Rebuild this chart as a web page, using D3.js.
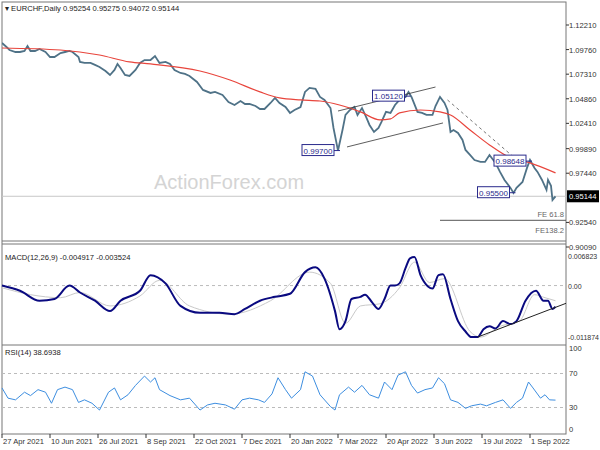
<!DOCTYPE html>
<html><head><meta charset="utf-8">
<script src="https://cdn.jsdelivr.net/npm/d3@7"></script>
<style>body{margin:0;background:#fff}svg{font-family:"Liberation Sans",Arial,sans-serif}</style>
</head><body><svg id="c" width="600" height="450"></svg>
<script>
// ---------- data (bar index, value) ----------
const xTickLabels = ["27 Apr 2021","10 Jun 2021","26 Jul 2021","8 Sep 2021","22 Oct 2021","7 Dec 2021","20 Jan 2022","7 Mar 2022","20 Apr 2022","3 Jun 2022","19 Jul 2022","1 Sep 2022"];
const xTickIndex = [0,32,64,96,128,160,192,224,256,288,320,352];
const priceTicks = [1.1221,1.0976,1.0731,1.0486,1.0241,0.9989,0.9744,0.9254,0.9009];
const priceIdx = [0,3,5,9,12,15,17,19,22,25,29,32,35,39,42,45,47,51,52,55,59,62,65,69,72,75,77,79,82,85,89,92,95,99,102,105,109,112,115,119,122,125,130,134,139,142,147,151,155,159,162,165,169,172,175,179,182,185,189,192,195,199,202,205,209,212,215,219,221,224,227,229,232,235,237,240,243,245,248,251,253,256,259,262,265,269,271,273,277,280,283,287,289,292,295,297,299,301,304,307,309,312,315,319,322,325,329,332,335,339,341,343,347,350,352,355,357,360,363,364,366,367,369];
const priceClose = [1.1042,1.1002,1.0972,1.0952,1.0952,1.0962,1.1012,1.0962,1.0962,1.0982,1.0952,1.0902,1.0902,1.0942,1.0952,1.0962,1.0952,1.0902,1.0853,1.0843,1.0843,1.0823,1.0803,1.0763,1.0723,1.0773,1.0833,1.0793,1.0723,1.0713,1.0773,1.0843,1.0872,1.0872,1.0912,1.0843,1.0853,1.0833,1.0773,1.0743,1.0733,1.0713,1.0653,1.0574,1.0544,1.0554,1.0524,1.0454,1.0424,1.0464,1.0434,1.0434,1.0414,1.0384,1.0384,1.0444,1.0494,1.0444,1.0404,1.0345,1.0374,1.0404,1.0554,1.0594,1.0584,1.0504,1.0474,1.0394,1.0195,0.9970,1.0175,1.0325,1.0374,1.0404,1.0325,1.0394,1.0295,1.0225,1.0155,1.0195,1.0255,1.0355,1.0345,1.0424,1.0474,1.0504,1.0554,1.0504,1.0355,1.0345,1.0325,1.0325,1.0414,1.0504,1.0444,1.0374,1.0155,1.0175,1.0145,1.0076,0.9976,0.9926,0.9876,0.9857,0.9857,0.9926,0.9847,0.9757,0.9677,0.9598,0.9548,0.9598,0.9657,0.9797,0.9876,0.9797,0.9757,0.9677,0.9578,0.9677,0.9618,0.9478,0.9514];
const maIdx = [0,39,65,85,99,132,152,172,185,199,212,225,239,252,259,265,279,292,299,312,325,339,352,369];
const maValue = [1.0992,1.0972,1.0922,1.0853,1.0833,1.0763,1.0673,1.0554,1.0494,1.0474,1.0464,1.0424,1.0355,1.0275,1.0285,1.0345,1.0374,1.0355,1.0325,1.0175,1.0026,0.9897,0.9847,0.9747];
const macdIdx = [0,12,25,35,45,52,62,72,79,92,99,109,119,132,145,155,162,172,182,192,202,209,215,222,225,229,233,239,242,247,251,255,259,262,265,269,272,275,279,284,287,291,294,299,304,309,313,317,321,325,329,334,339,343,349,356,361,364,367,369];
const macdValue = [0,-0.0012,-0.0035,-0.0031,0,-0.0016,-0.0035,-0.0059,-0.0035,-0.0012,0.0024,0.0005,-0.0047,-0.0063,-0.0063,-0.0066,-0.0054,-0.0035,-0.0026,-0.0019,0.0031,0.0042,0.0016,-0.0059,-0.0101,-0.0082,-0.0031,-0.0026,-0.0021,-0.0040,-0.0054,-0.0031,0,0,0.0005,0.0040,0.0063,0.0066,0.0024,-0.0002,-0.0007,0.0024,0.0026,-0.0031,-0.0082,-0.0106,-0.0119,-0.0119,-0.0101,-0.0094,-0.0099,-0.0082,-0.0089,-0.0082,-0.0035,-0.0012,-0.0035,-0.0035,-0.0054,-0.0049];
const signalIdx = [0,19,39,52,72,92,105,125,152,179,205,219,229,239,252,265,275,285,295,312,319,332,345,355,362,369];
const signalValue = [-0.0005,-0.0021,-0.0028,-0.0016,-0.0047,-0.0024,0.0012,-0.0047,-0.0066,-0.0035,0.0031,0.0005,-0.0087,-0.0047,-0.0042,-0.0005,0.0054,0.0007,0.0016,-0.0106,-0.0119,-0.0094,-0.0082,-0.0021,-0.0028,-0.0035];
const rsiIdx = [0,4,9,15,19,24,29,33,37,42,47,51,55,60,65,71,75,79,84,89,95,99,102,105,112,119,125,132,137,142,149,155,160,165,171,175,180,184,189,193,199,202,207,212,219,222,225,231,235,240,245,251,255,260,264,269,273,277,282,287,291,295,299,304,309,313,319,323,329,334,339,343,347,351,354,359,362,365,369];
const rsiValue = [53,41,39,48,44,51,48,35,51,54,51,36,39,35,27,48,53,39,45,56,67,60,65,51,44,39,41,27,33,35,33,28,39,41,39,36,46,65,51,41,51,72,67,45,31,27,45,54,48,56,45,41,60,51,68,72,56,47,51,53,65,58,39,36,29,32,34,32,36,39,29,36,41,60,53,41,45,39,38.69];
// annotations: [idx, price]
const channelLower = [[230,1.0006],[294,1.0245]];
const channelUpper = [[224,1.0364],[289,1.0603]];
const dottedLine = [[297,1.0474],[348,0.9816]];
const pivotLabels = [{t:"0.99700",i:224,v:0.9970},{t:"1.05120",i:271,v:1.0512},{t:"0.98648",i:352,v:0.98648},{t:"0.95500",i:341,v:0.9550}];
const macdTrend = [[317,-0.0119],[376,-0.0041]];

// ---------- layout ----------
const svg = d3.select("#c");
const L=2, R=566;
const x = d3.scaleLinear().domain([0,376]).range([L,R]);
const yP = d3.scaleLinear().domain([0.9009,1.1221]).range([247,25]);
const yM = d3.scaleLinear().domain([-0.011874,0.006823]).range([337,256]);
const yR = d3.scaleLinear().domain([0,100]).range([433,348]);
const ax = "#333", fs = 7.6;

svg.append("rect").attr("x",L).attr("y",2).attr("width",R-L).attr("height",432).attr("fill","none").attr("stroke","#777");
[241,244,345].forEach(yy=>svg.append("line").attr("x1",L).attr("x2",R).attr("y1",yy).attr("y2",yy).attr("stroke","#777"));

svg.append("clipPath").attr("id","cp").append("rect").attr("x",L).attr("y",2).attr("width",R-L).attr("height",239);

svg.append("text").attr("x",154).attr("y",189).attr("font-size",20).attr("fill","#d4d4d4").text("ActionForex.com");

svg.append("line").attr("x1",L).attr("x2",R).attr("y1",yP(0.95144)).attr("y2",yP(0.95144)).attr("stroke","#c8c8c8");
svg.append("line").attr("x1",440).attr("x2",R).attr("y1",yP(0.9275)).attr("y2",yP(0.9275)).attr("stroke","#555");
svg.append("text").attr("x",564).attr("y",yP(0.9275)-3).attr("text-anchor","end").attr("font-size",fs).attr("fill","#666").text("FE 61.8");
svg.append("text").attr("x",564).attr("y",yP(0.9135)-1).attr("text-anchor","end").attr("font-size",fs).attr("fill","#666").text("FE138.2");

const g = svg.append("g").attr("clip-path","url(#cp)");
const line = (ys)=>d3.line().x(d=>x(d[0])).y(d=>ys(d[1]));
g.append("path").attr("d",line(yP)(priceIdx.map((d,i)=>[d,priceClose[i]]))).attr("fill","none").attr("stroke","#4f7287").attr("stroke-width",1.8);
g.append("path").attr("fill","none").attr("stroke","#e8453c").attr("stroke-width",1.2).attr("d",d3.line().curve(d3.curveMonotoneX).x(d=>x(d[0])).y(d=>yP(d[1]))(maIdx.map((d,i)=>[d,maValue[i]])));
[channelLower,channelUpper].forEach(c=>g.append("path").attr("d",line(yP)(c)).attr("stroke","#333").attr("stroke-width",0.8).attr("fill","none"));
g.append("path").attr("d",line(yP)(dottedLine)).attr("stroke","#777").attr("stroke-dasharray","3,3").attr("fill","none");
pivotLabels.forEach(p=>{
  const px=x(p.i), py=yP(p.v), w=32;
  g.append("line").attr("x1",px-w-4).attr("x2",px+2).attr("y1",py).attr("y2",py).attr("stroke","#2b2b8c");
  g.append("rect").attr("x",px-w-4).attr("y",py-6).attr("width",w).attr("height",11).attr("fill","#fff").attr("stroke","#2b2b8c");
  g.append("text").attr("x",px-w/2-4).attr("y",py+3).attr("text-anchor","middle").attr("font-size",8).attr("fill","#2b2b8c").text(p.t);
});

priceTicks.forEach(t=>{
  svg.append("line").attr("x1",R).attr("x2",R+3).attr("y1",yP(t)).attr("y2",yP(t)).attr("stroke",ax);
  svg.append("text").attr("x",569).attr("y",yP(t)+3).attr("font-size",fs).attr("fill",ax).text(t.toFixed(5));
});
svg.append("rect").attr("x",567).attr("y",yP(0.95144)-6).attr("width",32).attr("height",12).attr("fill","#000");
svg.append("text").attr("x",569).attr("y",yP(0.95144)+3).attr("font-size",fs).attr("fill","#fff").text("0.95144");

svg.append("text").attr("x",5).attr("y",11).attr("font-size",fs).attr("fill","#222").text("▾ EURCHF,Daily  0.95254 0.95275 0.94072 0.95144");
svg.append("text").attr("x",5).attr("y",260).attr("font-size",fs).attr("fill","#222").text("MACD(12,26,9) -0.004917 -0.003524");
svg.append("text").attr("x",5).attr("y",355).attr("font-size",fs).attr("fill","#222").text("RSI(14) 38.6938");

svg.append("line").attr("x1",L).attr("x2",R).attr("y1",yM(0)).attr("y2",yM(0)).attr("stroke","#bbb").attr("stroke-dasharray","3,3");
svg.append("path").attr("d",d3.line().curve(d3.curveMonotoneX).x(d=>x(d[0])).y(d=>yM(d[1]))(signalIdx.map((d,i)=>[d,signalValue[i]]))).attr("fill","none").attr("stroke","#c9c9c9").attr("stroke-width",1);
svg.append("path").attr("d",d3.line().curve(d3.curveMonotoneX).x(d=>x(d[0])).y(d=>yM(d[1]))(macdIdx.map((d,i)=>[d,macdValue[i]]))).attr("fill","none").attr("stroke","#0a0a80").attr("stroke-width",2);
svg.append("path").attr("d",line(yM)(macdTrend)).attr("stroke","#222").attr("fill","none");
[[0.006823,"0.006823"],[0,"0.00"],[-0.011874,"-0.011874"]].forEach(([v,t])=>{
  svg.append("text").attr("x",568).attr("y",yM(v)+3).attr("font-size",7).attr("fill",ax).text(t);
});

[70,30].forEach(v=>svg.append("line").attr("x1",L).attr("x2",R).attr("y1",yR(v)).attr("y2",yR(v)).attr("stroke","#bbb").attr("stroke-dasharray","3,3"));
svg.append("path").attr("d",line(yR)(rsiIdx.map((d,i)=>[d,rsiValue[i]]))).attr("fill","none").attr("stroke","#3d8ee0").attr("stroke-width",1);
[[100,351],[70,376],[30,410],[0,432]].forEach(([v,yy])=>svg.append("text").attr("x",569).attr("y",yy).attr("font-size",fs).attr("fill",ax).text(v));

xTickIndex.forEach((t,i)=>{
  svg.append("line").attr("x1",x(t)).attr("x2",x(t)).attr("y1",434).attr("y2",438).attr("stroke",ax);
  svg.append("text").attr("x",x(t)+1).attr("y",444).attr("font-size",fs).attr("fill",ax).text(xTickLabels[i]);
});
</script></body></html>
